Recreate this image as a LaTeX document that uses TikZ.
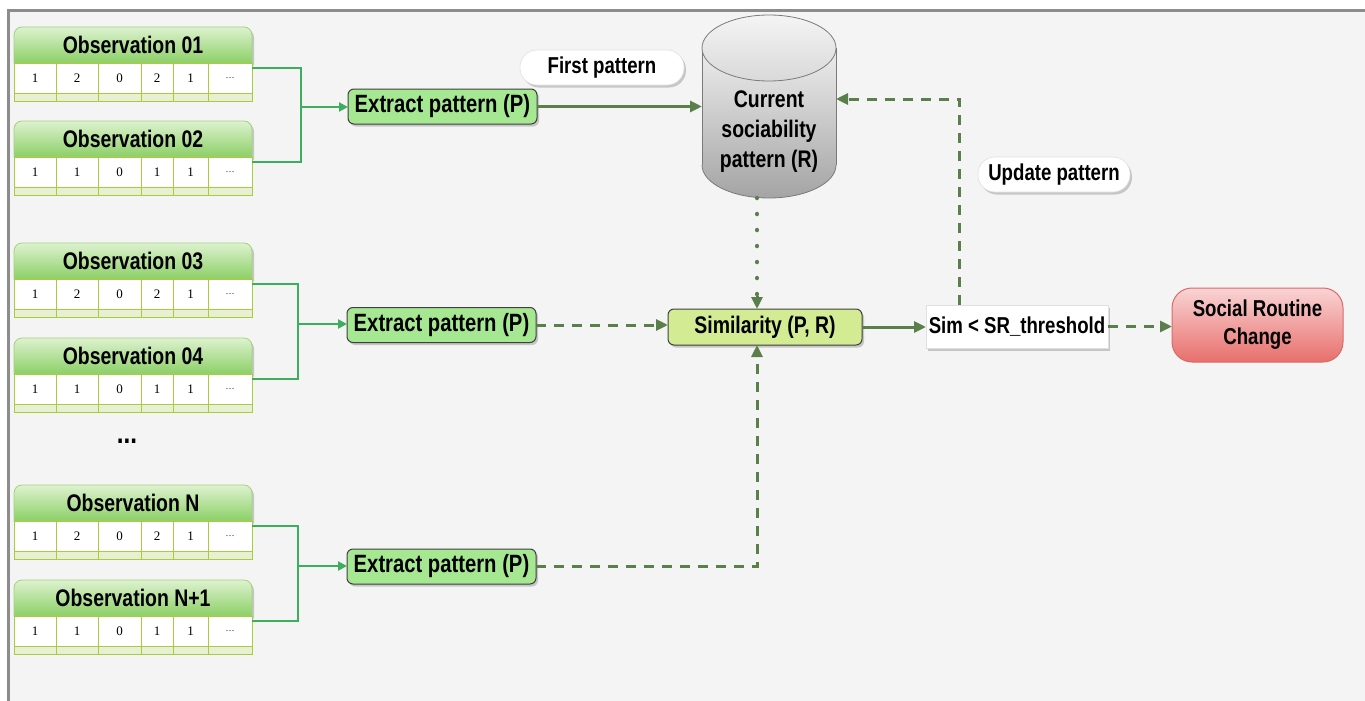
\documentclass[tikz,border=0pt]{standalone}
\usepackage{fontspec}
\setmainfont{Liberation Sans}[FakeStretch=0.81]
\newfontfamily\cellfont{Liberation Serif}
\usetikzlibrary{arrows.meta,shadows,calc}

\definecolor{canvas}{HTML}{F4F4F4}
\definecolor{framegray}{HTML}{8C8C8C}
\definecolor{feedgreen}{HTML}{3DAE5D}
\definecolor{flowgreen}{HTML}{5A7F4B}
\definecolor{headtop}{HTML}{DDF2CF}
\definecolor{headbot}{HTML}{8CCF66}
\definecolor{headline}{HTML}{A3D27E}
\definecolor{celledge}{HTML}{A9CC3E}
\definecolor{stripfill}{HTML}{E7F0D2}
\definecolor{extractfill}{HTML}{A6E891}
\definecolor{simfill}{HTML}{D3EC94}
\definecolor{boxline}{HTML}{3F3F3F}
\definecolor{redtop}{HTML}{F9D4D4}
\definecolor{redbot}{HTML}{E76F6C}
\definecolor{redline}{HTML}{D66C69}
\definecolor{storetop}{HTML}{EDEDED}
\definecolor{storebot}{HTML}{A4A4A4}
\definecolor{captop}{HTML}{F4F4F4}
\definecolor{capbot}{HTML}{D9D9D9}
\definecolor{storeedge}{HTML}{7A7A7A}

\tikzset{
  every node/.style={inner sep=0pt, outer sep=0pt},
  softshadow/.style={drop shadow={shadow xshift=2pt, shadow yshift=-2.5pt, opacity=0.35, fill=black!55}},
  obshead/.style={draw=headline, line width=0.8pt, top color=headtop, bottom color=headbot, softshadow},
  obstitle/.style={font=\fontsize{24}{26}\selectfont\bfseries},
  cellbox/.style={draw=celledge, line width=0.9pt, fill=white},
  stripbox/.style={draw=celledge, line width=0.9pt, fill=stripfill},
  celltext/.style={font=\cellfont\fontsize{13}{14}\selectfont},
  extractbox/.style={draw=boxline, line width=1pt, fill=extractfill, rounded corners=6pt,
    minimum width=189pt, minimum height=35pt, font=\fontsize{25}{27}\selectfont\bfseries, softshadow},
  simbox/.style={draw=boxline, line width=1pt, fill=simfill, rounded corners=6pt,
    minimum width=194pt, minimum height=36pt, font=\fontsize{24}{26}\selectfont\bfseries, softshadow},
  testbox/.style={draw=black!12, line width=0.6pt, fill=white,
    minimum width=182pt, minimum height=43pt, font=\fontsize{23}{25}\selectfont\bfseries, softshadow},
  alertbox/.style={draw=redline, line width=1pt, top color=redtop, bottom color=redbot, rounded corners=20pt,
    minimum width=171pt, minimum height=74pt, align=center, font=\fontsize{23}{28}\selectfont\bfseries},
  pill/.style={draw=black!12, line width=0.6pt, fill=white, rounded corners=17pt,
    minimum height=35pt, font=\fontsize{23}{25}\selectfont\bfseries, softshadow},
  storetext/.style={align=center, font=\fontsize{24}{30}\selectfont\bfseries},
  storeline/.style={draw=storeedge, line width=0.8pt},
  feed/.style={draw=feedgreen, line width=2.2pt},
  feedarrow/.style={feed, -{Triangle[length=9pt,width=9pt]}},
  flow/.style={draw=flowgreen, line width=3pt, -{Triangle[length=12pt,width=11pt]}},
  dashedflow/.style={flow, dash pattern=on 10pt off 8pt},
  dottedflow/.style={draw=flowgreen, line width=4.5pt, line cap=round, dash pattern=on 0.01pt off 16pt},
}

% one observation: title bar, a row of values and a blank strip under it
\newcommand{\obsblock}[8]{%
  \begin{scope}[shift={(0,#2)}]
    \path[obshead] (14,36) [rounded corners=8pt] -- (14,0) -- (252,0) [sharp corners] -- (252,36) -- cycle;
    \foreach \xa/\xb/\v [count=\i] in {14/56/#4,56/98/#5,98/141/#6,141/173/#7,173/208/#8,208/252/{\fontsize{9}{10}\selectfont\ldots}} {
      \draw[cellbox] (\xa,36) rectangle (\xb,66);
      \draw[stripbox] (\xa,66) rectangle (\xb,74);
      \node[celltext] (#1-c\i) at ({(\xa+\xb)/2},51) {\v};
    }
    \node[obstitle] (#1) at (133,18) {#3};
    \coordinate (#1-out) at (252,41);
  \end{scope}}

\begin{document}
\begin{tikzpicture}[x=1pt, y=-1pt]
  \useasboundingbox (0,0) rectangle (1365,701);
  \fill[white] (0,0) rectangle (1365,701);
  \fill[canvas] (9,12) rectangle (1365,701);
  \draw[framegray, line width=3pt] (8,701) -- (8,11) -- (1365,11);

  % observations
  \obsblock{obs1}{27}{Observation 01}{1}{2}{0}{2}{1}
  \obsblock{obs2}{121}{Observation 02}{1}{1}{0}{1}{1}
  \obsblock{obs3}{243}{Observation 03}{1}{2}{0}{2}{1}
  \obsblock{obs4}{338}{Observation 04}{1}{1}{0}{1}{1}
  \obsblock{obsN}{485}{Observation N}{1}{2}{0}{2}{1}
  \obsblock{obsNp}{580}{Observation N+1}{1}{1}{0}{1}{1}
  \node[font=\fontsize{30}{32}\selectfont\bfseries] (gap) at (127,441) {...};

  % pattern extraction
  \node[extractbox] (ex1) at (442.5,106.5) {Extract pattern (P)};
  \node[extractbox] (ex2) at (441.5,325) {Extract pattern (P)};
  \node[extractbox] (ex3) at (441.5,566.5) {Extract pattern (P)};

  \coordinate (j1) at (301,107);
  \coordinate (j2) at (298,324);
  \coordinate (j3) at (298,566);
  \draw[feed] (obs1-out) -| (j1) |- (obs2-out);
  \draw[feed] (obs3-out) -| (j2) |- (obs4-out);
  \draw[feed] (obsN-out) -| (j3) |- (obsNp-out);
  \draw[feedarrow] (j1) -- (j1 -| ex1.west);
  \draw[feedarrow] (j2) -- (j2 -| ex2.west);
  \draw[feedarrow] (j3) -- (j3 -| ex3.west);

  % stored reference pattern
  \path[shade, top color=storetop, bottom color=storebot]
    (702,48) rectangle (836,165) (769,165) ellipse [x radius=67pt, y radius=33pt];
  \draw[storeline] (702,48) -- (702,165);
  \draw[storeline] (836,48) -- (836,165);
  \begin{scope}
    \clip (690,165) rectangle (850,210);
    \draw[storeline] (769,165) ellipse [x radius=67pt, y radius=33pt];
  \end{scope}
  \draw[storeline, top color=captop, bottom color=capbot] (769,48) ellipse [x radius=67pt, y radius=33pt];
  \node[minimum width=134pt, minimum height=183pt] (store) at (769,106.5) {};
  \node[storetext] (storelabel) at (769,132) {Current\\sociability\\pattern (R)};

  % comparison and decision
  \node[simbox] (sim) at (765,327) {Similarity (P, R)};
  \node[testbox] (test) at (1017,326.5) {Sim < SR\_threshold};
  \node[alertbox] (alert) at (1257.5,325) {Social Routine\\Change};

  \node[pill, minimum width=164pt] (firstlbl) at (602,67.5) {First pattern};
  \node[pill, minimum width=152pt] (updlbl) at (1054,174.5) {Update pattern};

  \coordinate (vx) at (757,0);
  \coordinate (upx) at (959,0);
  \coordinate (storeR) at (836,99);

  \draw[flow] (ex1.east) -- (ex1.east -| store.west);
  \draw[dottedflow] (store.south -| vx) -- ($(sim.north -| vx)+(0,-14)$);
  \draw[flow] ($(sim.north -| vx)+(0,-13)$) -- (sim.north -| vx);
  \draw[dashedflow] (ex2.east) -- (ex2.east -| sim.west);
  \draw[dashedflow] (ex3.east) -| (sim.south -| vx);
  \draw[flow] (sim.east) -- (sim.east -| test.west);
  \draw[dashedflow] (test.east) -- (test.east -| alert.west);
  \draw[dashedflow] (test.north -| upx) |- (storeR);
\end{tikzpicture}
\end{document}
